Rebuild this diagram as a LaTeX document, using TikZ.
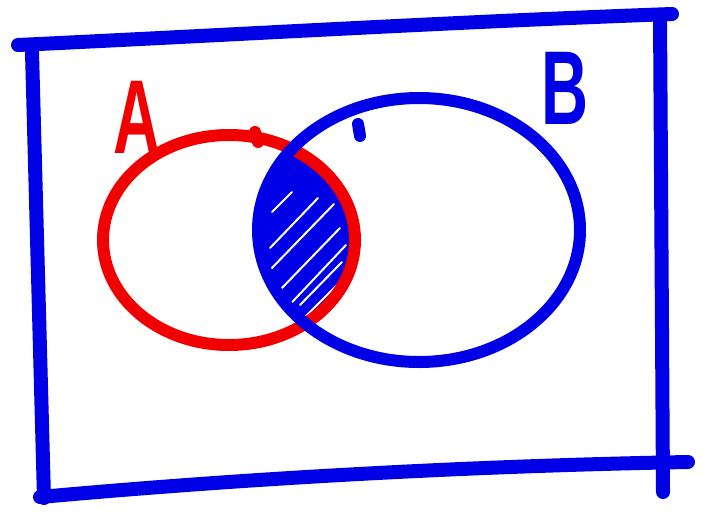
\documentclass[tikz,border=0pt]{standalone}
\usepackage{fontspec}
\setmainfont{Liberation Sans}
\definecolor{vblue}{RGB}{0,0,230}
\definecolor{vred}{RGB}{240,0,0}
\tikzset{
  frame/.style={draw=vblue,line width=14pt,line cap=round},
  setA/.style={draw=vred,line width=12pt,line cap=round},
  setB/.style={draw=vblue,line width=12pt,line cap=round},
  hatch/.style={draw=white,line width=2pt,line cap=round},
  letter/.style={font=\bfseries\fontsize{105}{105}\selectfont,inner sep=0pt,xscale=0.62}
}
\begin{document}
\begin{tikzpicture}[x=1pt,y=-1pt]
\useasboundingbox (0,0) rectangle (711,522);
% frame
\draw[frame] (18,45) .. controls (250,34) and (450,22) .. (672,14);
\draw[frame] (660,16) .. controls (661,170) and (662,330) .. (663,492);
\draw[frame] (40,497) .. controls (250,478) and (470,466) .. (688,462);
\draw[frame] (32,52) .. controls (36,200) and (40,350) .. (44,498);
% intersection fill
\begin{scope}
  \clip (229,240) ellipse [x radius=126, y radius=105];
  \fill[vblue] (419,230) ellipse [x radius=161, y radius=132];
\end{scope}
% hatching
\draw[hatch] (272,212) -- (292,192);
\draw[hatch] (270,248) -- (318,198);
\draw[hatch] (268,272) -- (334,204);
\draw[hatch] (280,290) -- (340,228);
\draw[hatch] (280,315) -- (346,245);
\draw[hatch] (300,305) -- (342,262);
\draw[hatch] (292,330) -- (340,282);
% sets
\draw[setA] (229,240) ellipse [x radius=126, y radius=105];
\draw[setA] (255,132) -- (258,142);
\draw[setB] (419,230) ellipse [x radius=161, y radius=132];
\draw[setB] (358,124) -- (360,136);
% labels
\node[letter,text=vred] (A) at (137,117) {A};
\node[letter,text=vblue] (B) at (565,88) {B};
\end{tikzpicture}
\end{document}
